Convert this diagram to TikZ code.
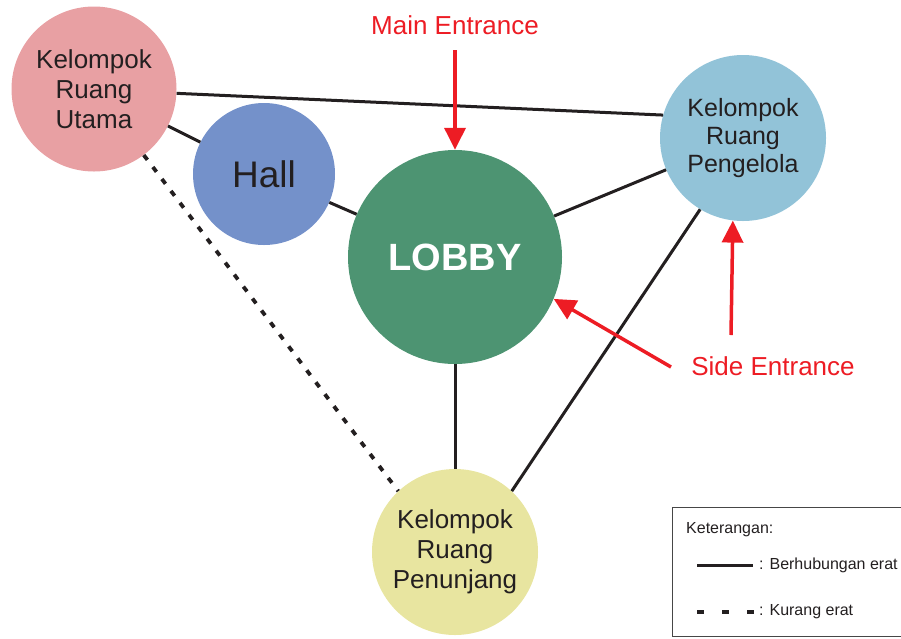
\documentclass[tikz,border=0pt]{standalone}
\usepackage{fontspec}
\setmainfont{Liberation Sans}
\usetikzlibrary{arrows.meta}

\definecolor{utamafill}{RGB}{232,160,163}
\definecolor{hallfill}{RGB}{116,145,202}
\definecolor{lobbyfill}{RGB}{77,148,114}
\definecolor{pengelolafill}{RGB}{146,195,216}
\definecolor{penunjangfill}{RGB}{232,229,160}
\definecolor{entryred}{RGB}{237,28,36}
\definecolor{linkcol}{RGB}{35,31,32}
\definecolor{labeltext}{RGB}{35,31,32}

\tikzset{
  room/.style={circle, inner sep=0pt, align=center, text=labeltext,
    font=\fontsize{26}{30}\selectfont},
  strong/.style={draw=linkcol, line width=3pt},
  weak/.style={draw=linkcol, line width=3.8pt, dash pattern=on 6pt off 9pt},
  entry/.style={draw=entryred, line width=3.5pt,
    -{Triangle[width=21pt,length=22pt]}},
  entrylabel/.style={text=entryred, font=\fontsize{26}{30}\selectfont},
  legendtext/.style={anchor=west, inner sep=0pt, text=labeltext,
    font=\fontsize{16}{18}\selectfont},
}

\begin{document}
\begin{tikzpicture}[x=1pt, y=-1pt]
\useasboundingbox (0,0) rectangle (901,638);

% room groups
\node[room, fill=utamafill, minimum size=165pt] (utama) at (94,89)
  {Kelompok\\Ruang\\Utama};
\node[room, fill=hallfill, minimum size=142pt,
  font=\fontsize{37}{40}\selectfont] (hall) at (264,174) {Hall};
\node[room, fill=lobbyfill, minimum size=214pt, text=white,
  font=\fontsize{38}{40}\selectfont\bfseries] (lobby) at (455,257) {LOBBY};
\node[room, fill=pengelolafill, minimum size=166pt,
  font=\fontsize{25}{28}\selectfont] (pengelola) at (743,138)
  {Kelompok\\Ruang\\Pengelola};
\node[room, fill=penunjangfill, minimum size=166pt] (penunjang) at (455,552)
  {Kelompok\\Ruang\\Penunjang};

% relations
\draw[strong] (utama.-3) -- (pengelola.164);
\draw[strong] (utama) -- (hall);
\draw[strong] (hall) -- (lobby);
\draw[strong] (lobby) -- (pengelola);
\draw[strong] (lobby) -- (penunjang);
\draw[strong] (pengelola.-121) -- (penunjang.47);
\draw[weak] (utama.-53) -- (penunjang.133);

% entrances
\node[entrylabel] (mainlbl) at (455,25) {Main Entrance};
\coordinate (mainTail) at (455,50);
\draw[entry] (mainTail) -- (lobby.north);

\node[entrylabel] (sidelbl) at (773,366) {Side Entrance};
\coordinate (sideTailA) at (671,367);
\coordinate (sideTailB) at (731,335);
\draw[entry] (sideTailA) -- (lobby.-23);
\draw[entry] (sideTailB) -- (pengelola.-97);

% legend
\draw[draw={rgb,255:red,70;green,70;blue,70}, line width=1pt]
  (905,507) -- (672,507) -- (672,636) -- (905,636);
\node[legendtext] (legtitle) at (686,530) {Keterangan:};
\coordinate (solidA) at (697,565);
\coordinate (solidB) at (753,565);
\draw[strong] (solidA) -- (solidB);
\node[legendtext] (solidtxt) at (759,565) {: Berhubungan erat};
\coordinate (dashA) at (697,612);
\coordinate (dashB) at (754,612);
\draw[draw=linkcol, line width=3.5pt, dash pattern=on 7pt off 18pt] (dashA) -- (dashB);
\node[legendtext] (dashtxt) at (759,612) {: Kurang erat};
\end{tikzpicture}
\end{document}
